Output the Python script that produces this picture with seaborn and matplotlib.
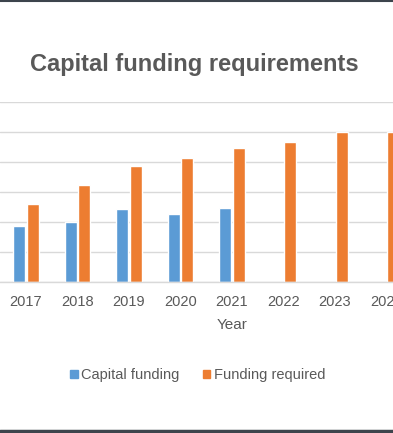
import matplotlib
matplotlib.use("Agg")
import matplotlib.pyplot as plt
from matplotlib.lines import Line2D
import numpy as np
import pandas as pd
import seaborn as sns

TEXT_GRAY = "#595959"
GRID_GRAY = "#d9d9d9"

years = ["2017", "2018", "2019", "2020", "2021", "2022", "2023", "2024", "2025"]
capital_funding = [94, 100, 122, 114, 123, np.nan, np.nan, np.nan, np.nan]
funding_required = [130, 162, 194, 207, 224, 233, 250, 250, 250]
series_names = ["Capital funding", "Funding required"]
colors = ["#5B9BD5", "#ED7D31"]

df = pd.DataFrame({
    "Year": years * 2,
    "value": capital_funding + funding_required,
    "series": [series_names[0]] * len(years) + [series_names[1]] * len(years),
})

sns.set_theme(style="white")
plt.rcParams["font.family"] = ["Liberation Sans", "DejaVu Sans"]

fig = plt.figure(figsize=(3.93, 4.33), dpi=100)
# plot area runs past the right edge (the reference is a cropped screenshot)
ax = fig.add_axes([0.0006, 0.3487, 1.179, 0.4157])

sns.barplot(
    data=df, x="Year", y="value", hue="series",
    hue_order=series_names, palette=colors,
    width=0.53, gap=0.12, saturation=1, ax=ax,
)

ax.set_xlim(-0.5, len(years) - 0.5)
ax.set_ylim(0, 300)
ax.set_yticks(np.arange(0, 301, 50))
ax.set_yticklabels([])
ax.yaxis.grid(True, color=GRID_GRAY, linewidth=1)
ax.set_axisbelow(True)
for side in ["top", "right", "left"]:
    ax.spines[side].set_visible(False)
ax.spines["bottom"].set_color(GRID_GRAY)
ax.spines["bottom"].set_linewidth(1)
ax.tick_params(axis="x", length=0, pad=9, labelsize=10.5, labelcolor=TEXT_GRAY)
ax.tick_params(axis="y", length=0)
ax.set_ylabel("")
ax.set_xlabel("Year", fontsize=11, color=TEXT_GRAY, labelpad=7)

ax.get_legend().remove()
handles = [plt.Rectangle((0, 0), 1, 1, color=c) for c in colors]
fig.legend(
    handles, series_names, loc="center", bbox_to_anchor=(198 / 393, 1 - 375 / 433),
    ncol=2, frameon=False, fontsize=10.5, handlelength=0.5, handleheight=0.5,
    handletextpad=0.25, columnspacing=1.6, labelcolor=TEXT_GRAY,
)

fig.text(0.494, 1 - 64 / 433, "Capital funding requirements", ha="center", va="center",
         fontsize=17, fontweight="bold", color=TEXT_GRAY)

# screenshot border lines at top and bottom
fig.add_artist(Line2D([0, 1], [0.998, 0.998], transform=fig.transFigure, color="#3d444c", linewidth=1.5))
fig.add_artist(Line2D([0, 1], [0.004, 0.004], transform=fig.transFigure, color="#3d444c", linewidth=2.5))

fig.savefig("out.png", dpi=100)
